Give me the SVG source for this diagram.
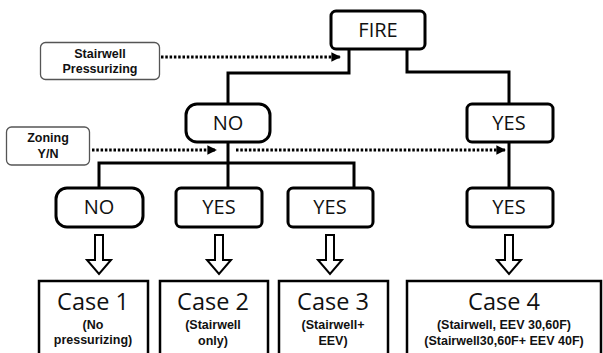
<svg xmlns="http://www.w3.org/2000/svg" width="603" height="353" viewBox="0 0 603 353">
<style>
.dec{fill:#fff;stroke:#000;stroke-width:3}
.lbl{fill:#fff;stroke:#555;stroke-width:1.3}
.case{fill:#fff;stroke:#000;stroke-width:2.5}
.t{font-family:"Open Sans","Noto Sans",sans-serif;fill:#111;text-anchor:middle}
.big{font-size:20px}
.cs{font-size:23.5px}
.sm{font-family:"Liberation Sans",Arial,sans-serif;font-size:12.5px;font-weight:bold}
.ln{fill:none;stroke:#000;stroke-width:3}
.dot{fill:none;stroke:#000;stroke-width:3;stroke-dasharray:2.5 1.8}
.hol{fill:#fff;stroke:#000;stroke-width:2}
</style>
<defs>
<marker id="ah" viewBox="0 0 10 10" refX="9" refY="5" markerWidth="3.2" markerHeight="3.2" orient="auto" markerUnits="strokeWidth">
<path d="M0,0 L10,5 L0,10 Z" fill="#000"/>
</marker>
<path id="hollow" d="M-4,0 H4 V25 H12 L0,39 L-12,25 H-4 Z"/>
</defs>
<g id="connectors">
<path class="ln" d="M349,49 V73 H228 V103"/>
<path class="ln" d="M407,49 V72 H509 V103"/>
<path class="ln" d="M228,142 V187"/>
<path class="ln" d="M99,187 V163 H354 V187"/>
<path class="ln" d="M509,142 V187"/>
<path class="dot" d="M161,57 H340" marker-end="url(#ah)"/>
<path class="dot" d="M92,150 H216" marker-end="url(#ah)"/>
<path class="dot" d="M236,150 H505" marker-end="url(#ah)"/>
<use href="#hollow" class="hol" x="99" y="235"/>
<use href="#hollow" class="hol" x="219" y="235"/>
<use href="#hollow" class="hol" x="330" y="235"/>
<use href="#hollow" class="hol" x="509" y="235"/>
</g>
<g id="fire"><rect class="dec" x="331" y="11" width="94" height="38" rx="5"/><text class="t big" x="378" y="37">FIRE</text></g>
<g id="stairwell-label"><rect class="lbl" x="40.5" y="42.5" width="119" height="37" rx="5"/><text class="t sm" x="100" y="58">Stairwell</text><text class="t sm" x="100" y="73">Pressurizing</text></g>
<g id="zoning-label"><rect class="lbl" x="6.5" y="127" width="83" height="38" rx="5"/><text class="t sm" x="48" y="142">Zoning</text><text class="t sm" x="48" y="158">Y/N</text></g>
<g id="no1"><rect class="dec" x="186" y="104" width="84" height="38" rx="11"/><text class="t big" x="228" y="130">NO</text></g>
<g id="yes1"><rect class="dec" x="467" y="104" width="86" height="38" rx="5"/><text class="t big" x="509" y="130">YES</text></g>
<g id="no2"><rect class="dec" x="56" y="188" width="87" height="39" rx="11"/><text class="t big" x="99" y="214">NO</text></g>
<g id="yes2"><rect class="dec" x="176" y="188" width="86" height="39" rx="5"/><text class="t big" x="219" y="214">YES</text></g>
<g id="yes3"><rect class="dec" x="288" y="188" width="85" height="39" rx="5"/><text class="t big" x="330" y="214">YES</text></g>
<g id="yes4"><rect class="dec" x="467" y="188" width="86" height="39" rx="5"/><text class="t big" x="509" y="214">YES</text></g>
<g id="case1"><rect class="case" x="39" y="281" width="109" height="80"/><text class="t cs" x="93" y="310">Case 1</text><text class="t sm" x="93" y="329">(No</text><text class="t sm" x="93" y="344">pressurizing)</text></g>
<g id="case2"><rect class="case" x="160" y="281" width="108" height="80"/><text class="t cs" x="213" y="310">Case 2</text><text class="t sm" x="213" y="329">(Stairwell</text><text class="t sm" x="213" y="345">only)</text></g>
<g id="case3"><rect class="case" x="279" y="281" width="109" height="80"/><text class="t cs" x="333" y="310">Case 3</text><text class="t sm" x="333" y="329">(Stairwell+</text><text class="t sm" x="333" y="345">EEV)</text></g>
<g id="case4"><rect class="case" x="407" y="281" width="194" height="80"/><text class="t cs" x="504" y="310">Case 4</text><text class="t sm" x="504" y="329">(Stairwell, EEV 30,60F)</text><text class="t sm" x="504" y="345">(Stairwell30,60F+ EEV 40F)</text></g>
</svg>
